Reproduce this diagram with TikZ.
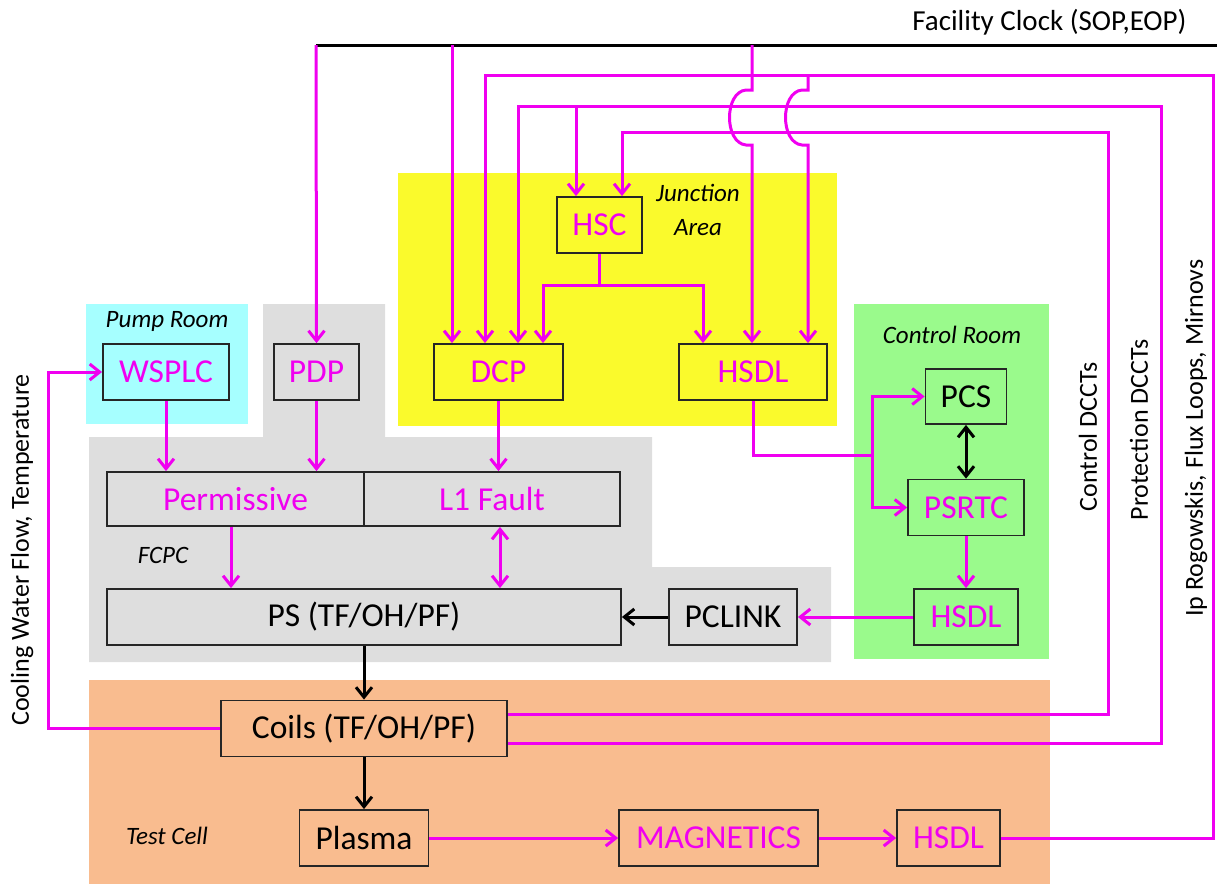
\documentclass[tikz,border=0pt]{standalone}
\usepackage{fontspec}
\setmainfont{Carlito}
\usepackage{xcolor}
\usepackage{tikz}
\usetikzlibrary{arrows.meta,positioning}
\definecolor{sigmag}{HTML}{F000F0}
\definecolor{jyellow}{HTML}{FAFA2C}
\definecolor{pcyan}{HTML}{A6FFFF}
\definecolor{cgreen}{HTML}{9AFA8C}
\definecolor{fgray}{HTML}{DEDEDE}
\definecolor{tpeach}{HTML}{F9BC8F}
\tikzset{
  unit/.style   ={draw=black!85,line width=1.8pt,inner sep=0pt,minimum height=56pt,
                  font=\fontsize{33.5}{37}\selectfont},
  magunit/.style={unit,text=sigmag},
  room/.style   ={font=\fontsize{25}{34}\selectfont\itshape,align=center},
  sidelabel/.style={font=\fontsize{26}{30}\selectfont,rotate=90},
  sig/.style    ={draw=sigmag,line width=3pt},
  sigto/.style  ={sig,-{Straight Barb[length=10pt,width=16pt]}},
  sigboth/.style={sig,{Straight Barb[length=10pt,width=16pt]}-{Straight Barb[length=10pt,width=16pt]}},
  pwr/.style    ={draw=black,line width=3pt,-{Straight Barb[length=10pt,width=16pt]}},
  pwrboth/.style={draw=black,line width=3pt,
                  {Straight Barb[length=10pt,width=16pt]}-{Straight Barb[length=10pt,width=16pt]}}
}
\begin{document}
\begin{tikzpicture}[x=1pt,y=-1pt]
  \useasboundingbox (0,0) rectangle (1217,884);
  % rooms
  \fill[jyellow] (398,173) rectangle (837,426);
  \fill[pcyan] (86,304) rectangle (248,424);
  \fill[fgray] (89,437) -- (263,437) -- (263,304) -- (385,304) -- (385,437) -- (652,437)
    -- (652,567) -- (831,567) -- (831,662) -- (89,662) -- cycle;
  \fill[cgreen] (854,304) rectangle (1049,659);
  \fill[tpeach] (89,680) rectangle (1050,884);

  \node[room] (jlab) at (698,210) {Junction\\Area};
  \node[room] (plab) at (167,321) {Pump Room};
  \node[room] (clab) at (952,335) {Control Room};
  \node[room] (flab) at (163,555) {FCPC};
  \node[room] (tlab) at (167,836) {Test Cell};

  \node[sidelabel] (cool) at (22,550) {Cooling Water Flow, Temperature};
  \node[sidelabel] (cdcct) at (1088,437) {Control DCCTs};
  \node[sidelabel] (pdcct) at (1139,430) {Protection DCCTs};
  \node[sidelabel] (iprog) at (1196,438) {Ip Rogowskis, Flux Loops, Mirnovs};
  \node[font=\fontsize{29}{33}\selectfont,anchor=east] (clock) at (1190,22) {Facility Clock (SOP,EOP)};

  \node[magunit,minimum width=126pt] (wsplc) at (166,372) {WSPLC};
  \node[magunit,minimum width=85pt] (pdp) at (316.5,372) {PDP};
  \node[magunit,minimum width=129pt] (dcp) at (498.5,372) {DCP};
  \node[magunit,minimum width=148pt] (hsdlj) at (753,372) {HSDL};
  \node[magunit,minimum width=85pt] (hsc) at (599.5,225) {HSC};
  \node[magunit,minimum width=257pt,minimum height=54pt] (perm) at (235.5,499) {Permissive};
  \node[magunit,minimum width=256pt,minimum height=54pt] (lfault) at (492,499) {L1 Fault};
  \node[unit,minimum width=514pt] (ps) at (364,617) {PS (TF/OH/PF)};
  \node[unit,minimum width=128pt] (pclink) at (733,617) {PCLINK};
  \node[magunit,minimum width=104pt] (hsdlc) at (966,617) {HSDL};
  \node[unit,minimum width=81pt,minimum height=55pt] (pcs) at (966,396.5) {PCS};
  \node[magunit,minimum width=116pt] (psrtc) at (966,507.5) {PSRTC};
  \node[unit,minimum width=286pt] (coils) at (364,728.5) {Coils (TF/OH/PF)};
  \node[unit,minimum width=129pt] (plasma) at (364,838) {Plasma};
  \node[magunit,minimum width=199pt] (magn) at (718.5,838) {MAGNETICS};
  \node[magunit,minimum width=103pt] (hsdlt) at (948.5,838) {HSDL};

  \coordinate (clkL) at (316,45);
  \coordinate (clkR) at (1217,45);
  \coordinate (clkD) at (452,45);
  \coordinate (clkH) at (752,45);
  \coordinate (iptop) at (1213,75);
  \coordinate (ipdcp) at (485,75);
  \coordinate (ipj) at (808,75);
  \coordinate (prtop) at (1161,106);
  \coordinate (prdcp) at (518,106);
  \coordinate (prhsc) at (576,106);
  \coordinate (cttop) at (1108,132);
  \coordinate (cthsc) at (622,132);
  \coordinate (hscfork) at (599.5,285);
  \coordinate (hscl) at (543,285);
  \coordinate (hscr) at (703,285);
  \coordinate (crfork) at (872,455);
  \coordinate (cwtop) at (48,372);
  \coordinate (lfd) at ([xshift=8pt]lfault.south);

  % facility clock
  \draw[line width=3pt] (clkL) -- (clkR);
  \draw[sigto] (clkL) -- (pdp.north);
  \draw[sigto] (clkD) -- (clkD |- dcp.north);
  \draw[sigto] (clkH) -- (752,90) -- (746,90) .. controls (724,92) and (724,143) .. (746,145)
    -- (752,145) -- (clkH |- hsdlj.north);

  % sensor lines
  \draw[sigto] (hsdlt.east) -| (iptop) -- (ipdcp) -- (ipdcp |- dcp.north);
  \draw[sigto] (ipj) -- (808,90) -- (802,90) .. controls (780,92) and (780,143) .. (802,145)
    -- (808,145) -- (ipj |- hsdlj.north);
  \draw[sigto] ([yshift=-14.5pt]coils.east) -| (prtop) -- (prdcp) -- (prdcp |- dcp.north);
  \draw[sigto] (prhsc) -- (prhsc |- hsc.north);
  \draw[sigto] ([yshift=14.5pt]coils.east) -| (cttop) -- (cthsc) -- (cthsc |- hsc.north);

  \draw[sig] (hsc.south) -- (hscfork);
  \draw[sigto] (hscfork) -- (hscl) -- (hscl |- dcp.north);
  \draw[sigto] (hscfork) -- (hscr) -- (hscr |- hsdlj.north);

  \draw[sigto] (wsplc.south) -- (wsplc.south |- perm.north);
  \draw[sigto] (pdp.south) -- (pdp.south |- perm.north);
  \draw[sigto] (dcp.south) -- (dcp.south |- lfault.north);
  \draw[sigto] ([xshift=-4.5pt]perm.south) -- ([xshift=-4.5pt]perm.south |- ps.north);
  \draw[sigboth] (lfd) -- (lfd |- ps.north);

  \draw[sig] (hsdlj.south) |- (crfork);
  \draw[sigto] (crfork) |- (pcs.west);
  \draw[sigto] (crfork) |- (psrtc.west);
  \draw[pwrboth] (pcs.south) -- (psrtc.north);
  \draw[sigto] (psrtc.south) -- (hsdlc.north);
  \draw[sigto] (hsdlc.west) -- (pclink.east);
  \draw[pwr] (pclink.west) -- (ps.east);
  \draw[pwr] (ps.south) -- (coils.north);
  \draw[pwr] (coils.south) -- (plasma.north);
  \draw[sigto] (coils.west) -| (cwtop) -- (wsplc.west);
  \draw[sigto] (plasma.east) -- (magn.west);
  \draw[sigto] (magn.east) -- (hsdlt.west);
\end{tikzpicture}
\end{document}
